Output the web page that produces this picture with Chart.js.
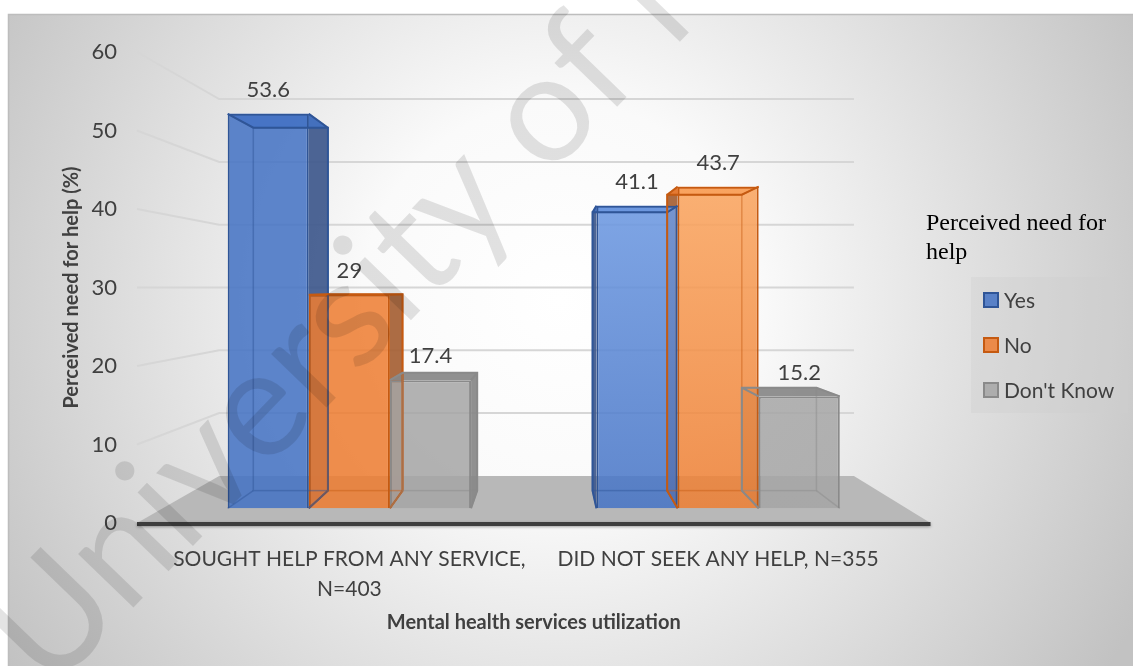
<!DOCTYPE html>
<html>
<head>
<meta charset="utf-8">
<script src="https://cdn.jsdelivr.net/npm/chart.js@4.4.1/dist/chart.umd.min.js"></script>
<style>
  html, body { margin: 0; padding: 0; background: #fff; }
  #wrap { width: 1133px; height: 666px; }
</style>
</head>
<body>
<div id="wrap"><canvas id="chart"></canvas></div>
<script>
// data
const categories = [['SOUGHT HELP FROM ANY SERVICE,', 'N=403'], 'DID NOT SEEK ANY HELP, N=355'];
const seriesNames = ['Yes', 'No', "Don't Know"];
const yesValues = [53.6, 41.1];
const noValues = [29, 43.7];
const dontKnowValues = [17.4, 15.2];
const yTicks = [0, 10, 20, 30, 40, 50, 60];
const xTitle = 'Mental health services utilization';
const yTitle = 'Perceived need for help (%)';
const legendTitle = 'Perceived need for help';
const watermark = 'University of Malaya';

// styles
const textColor = '#404040';
const faceColors = ['rgba(68,114,196,0.86)', 'rgba(237,125,49,0.86)', 'rgba(165,165,165,0.86)'];
const lightColors = ['rgba(131,173,240,0.9)', 'rgba(255,183,118,0.9)', 'rgba(170,170,170,0.86)'];
const edgeColors = ['#2F5597', '#C55A11', '#8a8a8a'];
const sideColors = ['rgba(62,88,140,0.92)', 'rgba(165,95,52,0.92)', 'rgba(135,135,135,0.92)'];
const WALL_DEPTH = 0.80, BAR_DEPTH = 0.92, FLOOR_EXT = 28;

Chart.defaults.font.family = 'Lato, "Open Sans", sans-serif';
Chart.defaults.color = textColor;

function faceFill(i) {
  return (c) => {
    const a = c.chart.chartArea;
    if (!a || c.dataIndex === 0) return faceColors[i];
    const g = c.chart.ctx.createLinearGradient(0, a.top, 0, a.bottom);
    g.addColorStop(0, lightColors[i]);
    g.addColorStop(1, faceColors[i]);
    return g;
  };
}

function scene(chart) {
  const a = chart.chartArea, y = chart.scales.y;
  const vx = (a.left + a.right) / 2 + 14;
  const vy = y.getPixelForValue((y.min + y.max) / 2);
  const toward = (px, py, k) => [vx + k * (px - vx), vy + k * (py - vy)];
  return { a, y, vx, vy, toward, fl: a.left - FLOOR_EXT, fr: a.right + FLOOR_EXT };
}

function barBox(bar, s) {
  const L = bar.x - bar.width / 2, R = bar.x + bar.width / 2, T = bar.y, B = bar.base;
  const [L2, T2] = s.toward(L, T, BAR_DEPTH);
  const [R2, B2] = s.toward(R, B, BAR_DEPTH);
  return { L, R, T, B, L2, R2, T2, B2, right: bar.x < s.vx };
}

function poly(ctx, pts) {
  ctx.beginPath();
  pts.forEach((p, i) => i ? ctx.lineTo(p[0], p[1]) : ctx.moveTo(p[0], p[1]));
  ctx.closePath();
}

const scenePlugin = {
  id: 'scene3d',
  beforeDraw(chart) {
    const { ctx, width, height } = chart;
    ctx.save();
    ctx.fillStyle = '#fff';
    ctx.fillRect(0, 0, width, height);
    const g = ctx.createRadialGradient(560, 300, 0, 560, 300, 660);
    g.addColorStop(0, '#ffffff');
    g.addColorStop(0.3, '#fafafa');
    g.addColorStop(1, '#c2c2c2');
    ctx.fillStyle = g;
    ctx.fillRect(8, 14, width - 8, height - 14);
    ctx.strokeStyle = '#bdbdbd';
    ctx.lineWidth = 1.5;
    ctx.strokeRect(8.5, 14.5, width, height);
    ctx.restore();
  },
  beforeDatasetsDraw(chart) {
    const { ctx } = chart;
    const s = scene(chart);
    ctx.save();
    // side wall + back wall gridlines
    ctx.strokeStyle = '#d6d6d6';
    ctx.lineWidth = 2;
    s.y.ticks.forEach(t => {
      if (t.value === s.y.min) return;
      const fy = s.y.getPixelForValue(t.value);
      const [bx1, by] = s.toward(s.fl, fy, WALL_DEPTH);
      const [bx2] = s.toward(s.fr, fy, WALL_DEPTH);
      ctx.beginPath();
      ctx.moveTo(s.fl, fy);
      ctx.lineTo(bx1, by);
      ctx.lineTo(bx2, by);
      ctx.stroke();
    });
    // floor
    const fy0 = s.y.getPixelForValue(s.y.min);
    const [blx, bly] = s.toward(s.fl, fy0, WALL_DEPTH);
    const [brx] = s.toward(s.fr, fy0, WALL_DEPTH);
    ctx.fillStyle = '#b8b8b8';
    poly(ctx, [[s.fl, fy0], [blx, bly], [brx, bly], [s.fr, fy0]]);
    ctx.fill();
    // bar sides and tops
    chart.data.datasets.forEach((ds, i) => {
      chart.getDatasetMeta(i).data.forEach(bar => {
        const b = barBox(bar, s);
        const sx = b.right ? b.R : b.L, sx2 = b.right ? b.R2 : b.L2;
        ctx.fillStyle = sideColors[i];
        poly(ctx, [[sx, b.T], [sx2, b.T2], [sx2, b.B2], [sx, b.B]]);
        ctx.fill();
        ctx.fillStyle = b.T > s.vy ? sideColors[i] : faceColors[i];
        poly(ctx, [[b.L, b.T], [b.R, b.T], [b.R2, b.T2], [b.L2, b.T2]]);
        ctx.fill();
      });
    });
    ctx.restore();
  },
  afterDatasetsDraw(chart) {
    const { ctx } = chart;
    const s = scene(chart);
    ctx.save();
    chart.data.datasets.forEach((ds, i) => {
      chart.getDatasetMeta(i).data.forEach((bar, j) => {
        const b = barBox(bar, s);
        ctx.strokeStyle = edgeColors[i];
        // faint back edges seen through the bar
        ctx.globalAlpha = 0.45;
        ctx.lineWidth = 1.5;
        ctx.strokeRect(b.L2, b.T2, b.R2 - b.L2, b.B2 - b.T2);
        ctx.beginPath();
        [[b.L, b.T, b.L2, b.T2], [b.R, b.T, b.R2, b.T2], [b.L, b.B, b.L2, b.B2], [b.R, b.B, b.R2, b.B2]]
          .forEach(e => { ctx.moveTo(e[0], e[1]); ctx.lineTo(e[2], e[3]); });
        ctx.stroke();
        // outer outline of top and side
        ctx.globalAlpha = 1;
        ctx.lineWidth = 2;
        const sx = b.right ? b.R : b.L, sx2 = b.right ? b.R2 : b.L2;
        ctx.beginPath();
        ctx.moveTo(b.right ? b.L : b.R, b.T);
        ctx.lineTo(b.right ? b.L2 : b.R2, b.T2);
        ctx.lineTo(sx2, b.T2);
        ctx.lineTo(sx2, b.B2);
        ctx.lineTo(sx, b.B);
        ctx.moveTo(sx, b.T);
        ctx.lineTo(sx2, b.T2);
        ctx.stroke();
        // value label
        ctx.fillStyle = textColor;
        ctx.font = '22px Lato, sans-serif';
        ctx.textAlign = 'center';
        ctx.textBaseline = 'middle';
        ctx.fillText(String(ds.data[j]), bar.x, bar.y - 24);
      });
    });
    // axis line along the front edge of the floor
    const fy0 = s.y.getPixelForValue(s.y.min);
    ctx.strokeStyle = '#3d3d3d';
    ctx.lineWidth = 4;
    ctx.shadowColor = 'rgba(0,0,0,0.35)';
    ctx.shadowBlur = 3;
    ctx.shadowOffsetY = 1;
    ctx.beginPath();
    ctx.moveTo(s.fl, fy0 + 1);
    ctx.lineTo(s.fr, fy0 + 1);
    ctx.stroke();
    ctx.restore();
  },
  afterDraw(chart) {
    const { ctx } = chart;
    ctx.save();
    // legend
    ctx.fillStyle = 'rgba(205,205,205,0.35)';
    ctx.fillRect(971, 277, 157, 136);
    ctx.fillStyle = '#000';
    ctx.font = '24px "Liberation Serif", "Times New Roman", serif';
    ctx.textAlign = 'left';
    ctx.textBaseline = 'middle';
    const lines = [];
    legendTitle.split(' ').forEach(w => {
      const last = lines[lines.length - 1];
      if (last && ctx.measureText(last + ' ' + w).width < 195) lines[lines.length - 1] = last + ' ' + w;
      else lines.push(w);
    });
    lines.forEach((l, k) => ctx.fillText(l, 926, 224 + k * 29));
    ctx.font = '21px Lato, sans-serif';
    chart.data.datasets.forEach((ds, i) => {
      const cy = 300 + i * 45;
      ctx.fillStyle = faceColors[i];
      ctx.fillRect(984, cy - 7, 14, 14);
      ctx.strokeStyle = edgeColors[i];
      ctx.lineWidth = 2;
      ctx.strokeRect(984, cy - 7, 14, 14);
      ctx.fillStyle = textColor;
      ctx.fillText(ds.label, 1004, cy + 1);
    });
    // watermark
    ctx.translate(50, 694);
    ctx.rotate(-46 * Math.PI / 180);
    ctx.fillStyle = 'rgba(0,0,0,0.11)';
    ctx.font = '152px Lato, sans-serif';
    ctx.textBaseline = 'alphabetic';
    ctx.fillText(watermark, 0, 0);
    ctx.restore();
  },
};

const series = [yesValues, noValues, dontKnowValues];

new Chart(document.getElementById('chart'), {
  type: 'bar',
  data: {
    labels: categories,
    datasets: series.map((vals, i) => ({
      label: seriesNames[i],
      data: vals,
      yAxisID: 'yb',
      backgroundColor: faceFill(i),
      borderColor: edgeColors[i],
      borderWidth: 2,
      categoryPercentage: 0.66,
      barPercentage: 1,
    })),
  },
  options: {
    responsive: true,
    maintainAspectRatio: false,
    animation: false,
    layout: { padding: { top: 52, right: 230.5, left: 0, bottom: 0 } },
    plugins: { legend: { display: false }, tooltip: { enabled: false } },
    scales: {
      x: {
        grid: { display: false },
        border: { display: false },
        ticks: { color: textColor, font: { size: 21, lineHeight: 1.4 }, padding: 14, maxRotation: 0, autoSkip: false },
        title: { display: true, text: xTitle, color: textColor, font: { size: 20, weight: 'bold' }, padding: { top: 0, bottom: 31 } },
        afterFit: sc => { sc.height = 143; },
      },
      y: {
        min: yTicks[0],
        max: yTicks[yTicks.length - 1],
        grid: { display: true, drawOnChartArea: false, drawTicks: true, tickLength: 44, color: 'transparent' },
        border: { display: false },
        ticks: { stepSize: yTicks[1] - yTicks[0], color: textColor, font: { size: 22 }, padding: 4 },
        title: { display: true, text: yTitle, color: textColor, font: { size: 20, weight: 'bold' }, padding: { top: 60, bottom: 0 } },
        afterFit: sc => { sc.width = 165; },
      },
      yb: { display: false, min: -2, max: 62 },
    },
  },
  plugins: [scenePlugin],
});
</script>
</body>
</html>
